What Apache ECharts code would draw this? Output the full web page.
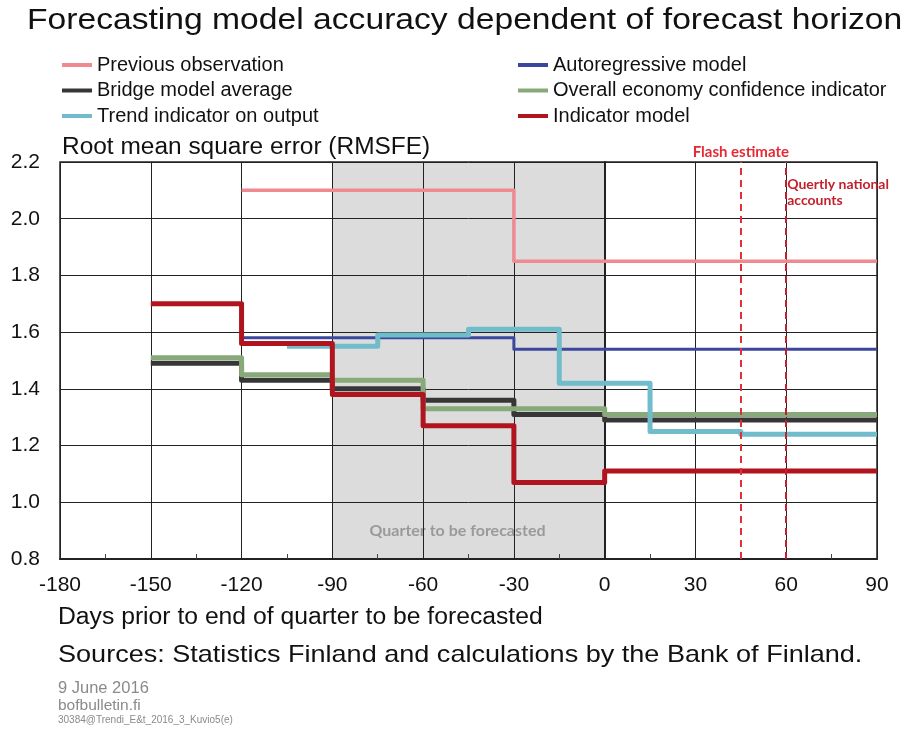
<!DOCTYPE html>
<html>
<head>
<meta charset="utf-8">
<title>Forecasting model accuracy</title>
<script src="https://cdn.jsdelivr.net/npm/echarts@6/dist/echarts.min.js"></script>
<style>
  html, body { margin: 0; padding: 0; background: #fff; }
  #main { width: 908px; height: 729px; }
</style>
</head>
<body>
<div id="main"></div>
<script>
// x = days prior to end of quarter, y = RMSFE (step changes)
var prevObservation = [[-120, 2.10], [-30, 1.85], [90, 1.85]];
var autoregressive = [[-120, 1.58], [-30, 1.54], [90, 1.54]];
var bridgeAverage = [[-150, 1.49], [-120, 1.43], [-90, 1.40], [-60, 1.36], [-30, 1.31], [0, 1.29], [90, 1.29]];
var confidenceIndicator = [[-150, 1.51], [-120, 1.45], [-90, 1.43], [-60, 1.33], [0, 1.31], [90, 1.31]];
var trendIndicator = [[-105, 1.55], [-75, 1.59], [-45, 1.61], [-15, 1.42], [15, 1.25], [45, 1.24], [90, 1.24]];
var indicatorModel = [[-150, 1.70], [-120, 1.56], [-90, 1.38], [-60, 1.27], [-30, 1.07], [0, 1.11], [90, 1.11]];

var quarterRange = [-90, 0];
var flashDay = 45;
var accountsDay = 60;

var leftLegend = ['Previous observation', 'Bridge model average', 'Trend indicator on output'];
var rightLegend = ['Autoregressive model', 'Overall economy confidence indicator', 'Indicator model'];

var font = 'Liberation Sans, Arial, sans-serif';

function stepSeries(name, data, color, width) {
  return {
    name: name,
    type: 'line',
    step: 'end',
    data: data,
    showSymbol: false,
    symbol: 'none',
    z: 3,
    color: color,
    lineStyle: { color: color, width: width, cap: 'butt', join: 'round' },
    emphasis: { disabled: true }
  };
}

var myChart = echarts.init(document.getElementById('main'));
var legendBase = {
  orient: 'vertical',
  top: 50,
  itemWidth: 30,
  itemHeight: 4,
  itemGap: 5.5,
  icon: 'rect',
  selectedMode: false,
  textStyle: { fontFamily: font, fontSize: 20, color: '#111', lineHeight: 20 }
};

var option = {
  animation: false,
  backgroundColor: '#fff',
  legend: [
    Object.assign({}, legendBase, { left: 57, data: leftLegend }),
    Object.assign({}, legendBase, { left: 513, data: rightLegend })
  ],
  grid: {
    left: 60, top: 162, width: 817, height: 397,
    containLabel: false, outerBoundsMode: 'none',
    show: true, borderColor: '#222', borderWidth: 1.5, backgroundColor: 'transparent'
  },
  xAxis: {
    type: 'value', min: -180, max: 90, interval: 30, z: 2,
    axisLine: { show: true, onZero: false, lineStyle: { color: '#222', width: 2 } },
    axisTick: { show: true, inside: true, length: 5, lineStyle: { color: '#222' } },
    minorTick: { show: true, splitNumber: 2, length: 5, lineStyle: { color: '#444' } },
    splitLine: { show: true, lineStyle: { color: '#222', width: 1 } },
    axisLabel: { fontFamily: font, fontSize: 21, color: '#111', margin: 16 }
  },
  yAxis: {
    type: 'value', min: 0.8, max: 2.2, interval: 0.2, z: 2,
    axisLine: { show: true, lineStyle: { color: '#222', width: 2 } },
    axisTick: { show: false },
    splitLine: { show: true, lineStyle: { color: '#222', width: 1 } },
    axisLabel: {
      fontFamily: font, fontSize: 21, color: '#111', margin: 20,
      formatter: function (v) { return v.toFixed(1); }
    }
  },
  series: [
    {
      name: 'quarter',
      type: 'line',
      data: [],
      z: 0,
      silent: true,
      markArea: {
        silent: true,
        z: 0,
        itemStyle: { color: '#dcdcdc' },
        label: {
          show: true,
          position: 'insideBottom',
          distance: 20,
          offset: [-11, 0],
          fontFamily: 'Lato, sans-serif',
          fontWeight: 'bold',
          fontSize: 16,
          color: '#9a9a9a'
        },
        data: [[{ xAxis: quarterRange[0], name: 'Quarter to be forecasted' }, { xAxis: quarterRange[1] }]]
      }
    },
    stepSeries('Previous observation', prevObservation, '#ee8a90', 3.5),
    stepSeries('Autoregressive model', autoregressive, '#3b479d', 3),
    stepSeries('Bridge model average', bridgeAverage, '#363636', 5),
    stepSeries('Overall economy confidence indicator', confidenceIndicator, '#88a97a', 5),
    stepSeries('Trend indicator on output', trendIndicator, '#70bccb', 5),
    stepSeries('Indicator model', indicatorModel, '#b0141f', 5),
    {
      name: 'markers',
      type: 'line',
      data: [],
      z: 4,
      silent: true,
      markLine: {
        silent: true,
        symbol: 'none',
        z: 5,
        data: [
          {
            xAxis: flashDay,
            lineStyle: { color: '#e23038', type: [7, 5], width: 2 },
            label: {
              show: true, position: 'end', formatter: 'Flash estimate',
              fontFamily: 'Lato, sans-serif', fontWeight: 'bold', fontSize: 15, color: '#e52a35', distance: 2
            }
          },
          {
            xAxis: accountsDay,
            lineStyle: { color: '#c21e2b', type: [7, 5], width: 2 },
            label: {
              show: true, position: 'end', formatter: 'Quertly national\naccounts',
              align: 'left', verticalAlign: 'top', offset: [1, 19], lineHeight: 16,
              fontFamily: 'Lato, sans-serif', fontWeight: 'bold', fontSize: 14, color: '#c41f2c'
            }
          }
        ]
      }
    }
  ],
  graphic: [
    {
      type: 'text', left: 27, top: 6, scaleX: 1.16,
      style: { text: 'Forecasting model accuracy dependent of forecast horizon', font: '29px ' + font, fill: '#111' }
    },
    {
      type: 'text', left: 62, top: 136, scaleX: 1.063,
      style: { text: 'Root mean square error (RMSFE)', font: '23px ' + font, fill: '#111' }
    },
    {
      type: 'text', left: 58, top: 606, scaleX: 1.074,
      style: { text: 'Days prior to end of quarter to be forecasted', font: '23px ' + font, fill: '#111' }
    },
    {
      type: 'text', left: 58, top: 643, scaleX: 1.127,
      style: { text: 'Sources: Statistics Finland and calculations by the Bank of Finland.', font: '24px ' + font, fill: '#111' }
    },
    {
      type: 'text', left: 58, top: 680,
      style: { text: '9 June 2016', font: '16.5px ' + font, fill: '#8a8a8a' }
    },
    {
      type: 'text', left: 58, top: 698,
      style: { text: 'bofbulletin.fi', font: '15.5px ' + font, fill: '#8a8a8a' }
    },
    {
      type: 'text', left: 58, top: 715,
      style: { text: '30384@Trendi_E&t_2016_3_Kuvio5(e)', font: '10px ' + font, fill: '#8a8a8a' }
    }
  ]
};
myChart.setOption(option);
</script>
</body>
</html>
